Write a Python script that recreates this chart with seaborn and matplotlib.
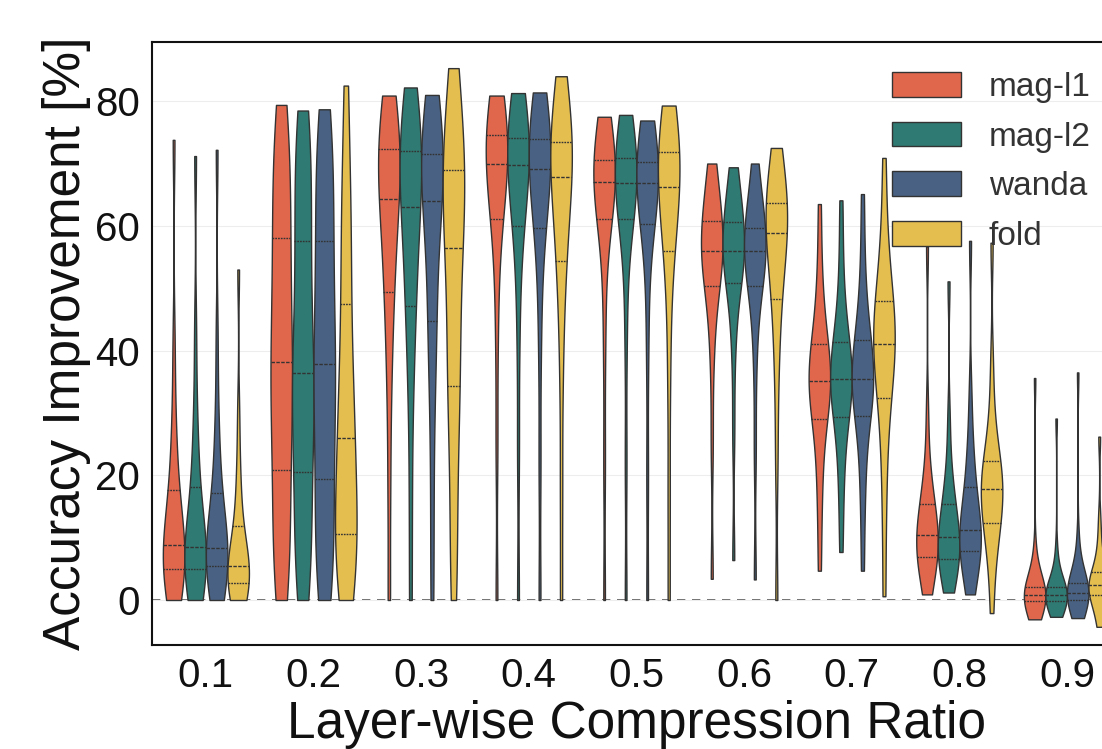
import matplotlib
matplotlib.use("Agg")
import matplotlib.pyplot as plt
import pandas as pd
import seaborn as sns

ratios = ["0.1", "0.2", "0.3", "0.4", "0.5", "0.6", "0.7", "0.8", "0.9"]
methods = ["mag-l1", "mag-l2", "wanda", "fold"]
colors = ["#E0664C", "#2F7A72", "#496283", "#E5BE50"]

# accuracy improvement samples [%], one list per compression ratio
mag_l1 = [
    [0, 1.2, 2.5, 3.4, 4.4, 5.2, 5.9, 6.8, 7.7, 8.4, 9.2, 10.5, 12, 14, 16.8, 20, 24, 30, 41, 73.8],
    [0, 4, 8, 12.5, 17, 22.2, 26, 30, 34, 36.5, 39.9, 44, 48, 52.5, 57, 61.5, 65.5, 70, 74.5, 79.4],
    [0, 18, 32, 40, 47, 50.1, 54, 58, 61, 63.5, 65.1, 67, 69, 70.5, 72, 73.6, 75, 77, 79, 80.9],
    [0, 25, 42, 52, 59.5, 61.6, 64, 66, 68, 69.3, 70.5, 71.8, 72.8, 73.6, 74.3, 75.5, 76.8, 78, 79.5, 80.9],
    [0, 22, 40, 51, 59.5, 61.6, 63.5, 65, 66, 66.7, 67.5, 68.3, 69, 69.6, 70.3, 71.5, 72.8, 74.2, 75.8, 77.5],
    [3.4, 25, 38, 44, 48.5, 50.9, 52.5, 54, 55, 55.5, 56.3, 57.2, 58.2, 59.2, 60.3, 62.3, 64, 66, 68, 70],
    [4.7, 13, 19, 23.5, 27.5, 29.5, 31.2, 32.6, 33.8, 34.7, 35.7, 36.8, 38, 39.3, 40.6, 42.6, 45.5, 49, 55, 63.5],
    [0.9, 2.8, 4.2, 5.4, 6.6, 7.1, 7.9, 8.7, 9.4, 10.1, 10.9, 11.8, 12.8, 13.9, 15, 16.6, 18.8, 22, 30, 56.7],
    [-3.1, -2.2, -1.5, -1.0, -0.4, -0.1, 0.2, 0.4, 0.6, 0.7, 0.9, 1.1, 1.3, 1.6, 1.9, 2.4, 3.2, 4.5, 8, 35.6],
]
mag_l2 = [
    [0, 1.0, 2.2, 3.3, 4.5, 5.2, 6.0, 6.8, 7.5, 8.1, 8.9, 10.2, 11.8, 14, 17.2, 20.8, 25, 31, 43, 71.2],
    [0, 4, 8, 12, 16.5, 21.8, 25.5, 29, 32.5, 35, 37.8, 42, 46.5, 51, 56.5, 61, 65.5, 70, 74.5, 78.5],
    [0, 16, 30, 38, 45, 47.8, 52, 56, 59.5, 62, 64.2, 66.5, 68.5, 70, 71.5, 73.5, 75.5, 77.5, 80, 82.2],
    [0, 24, 41, 51, 58.3, 60.6, 63, 65.5, 67.5, 69, 70.4, 71.5, 72.5, 73.2, 73.8, 74.8, 76.5, 78, 79.8, 81.3],
    [0, 22, 41, 52, 59.6, 61.6, 63.3, 64.8, 65.8, 66.5, 67.3, 68.2, 69, 69.8, 70.6, 72, 73.3, 74.7, 76.2, 77.8],
    [6.4, 27, 39, 45, 49.3, 51.4, 52.8, 54, 55, 55.5, 56.3, 57.2, 58.2, 59.2, 60.1, 62.1, 63.8, 65.6, 67.5, 69.4],
    [7.7, 15, 20.5, 24.5, 28, 29.9, 31.5, 32.9, 34, 34.9, 35.9, 37, 38.3, 39.6, 40.9, 42.9, 45.8, 49.5, 56, 64.1],
    [1.2, 2.7, 3.9, 5.0, 6.2, 6.6, 7.4, 8.2, 9.0, 9.7, 10.5, 11.4, 12.5, 13.7, 15, 16.6, 18.8, 22, 29, 51.1],
    [-2.7, -1.9, -1.3, -0.8, -0.4, -0.1, 0.2, 0.4, 0.6, 0.7, 0.9, 1.1, 1.3, 1.6, 2.0, 2.5, 3.3, 4.6, 8, 29.1],
]
wanda = [
    [0, 1.4, 2.8, 3.9, 5.0, 5.7, 6.3, 7.0, 7.6, 8.0, 8.8, 10, 11.5, 13.6, 16.4, 19.6, 24, 30, 42, 72.2],
    [0, 3.5, 7.5, 11.5, 15.5, 20.7, 25, 29, 33, 36.5, 39.1, 43, 47.5, 52, 56.5, 61, 65.5, 70, 74.5, 78.7],
    [0, 14, 27, 36, 42, 45.7, 51, 56, 60, 63, 65, 67, 68.5, 70, 71, 73, 75, 77, 79, 81],
    [0, 22, 40, 50, 58, 60.3, 62.8, 65, 67, 68.6, 69.8, 71, 72, 73, 73.6, 74.8, 76.5, 78, 79.8, 81.4],
    [0, 20, 39, 50, 58.5, 60.9, 62.8, 64.5, 65.6, 66.4, 67.2, 68, 68.8, 69.5, 70, 71.2, 72.6, 74, 75.5, 76.9],
    [3.3, 24, 37, 44, 48.6, 50.9, 52.5, 54, 55, 55.5, 56.3, 57, 57.8, 58.6, 59.4, 60.6, 62.5, 65, 67.5, 70],
    [4.7, 13.5, 19.5, 24, 28, 30, 31.6, 33, 34.1, 34.9, 35.9, 37.1, 38.5, 39.9, 41.2, 43.2, 46.3, 50, 56.5, 65.1],
    [0.9, 3, 4.6, 6, 7.5, 7.9, 8.7, 9.5, 10.3, 10.9, 11.7, 12.7, 14, 15.5, 17.5, 19.9, 22.5, 26, 33, 57.6],
    [-2.9, -1.9, -1.2, -0.6, -0.2, 0.1, 0.5, 0.8, 1.0, 1.1, 1.3, 1.6, 1.9, 2.3, 2.6, 3.3, 4.3, 5.8, 10, 36.5],
]
fold = [
    [0, 0.5, 1.2, 1.9, 2.5, 2.9, 3.4, 4.0, 4.6, 5.1, 5.7, 6.6, 7.7, 9.0, 11.2, 14.0, 17.5, 22, 30, 53],
    [0, 2.5, 5, 7.5, 9.5, 11.0, 14, 17.5, 21, 24.5, 27.5, 31, 35, 40, 46, 52, 58, 64, 71, 82.5],
    [0, 8, 17, 25, 32, 35.1, 40, 45, 50, 54.5, 58.3, 61.5, 64, 66.5, 68.5, 70.5, 73.5, 77, 81, 85.3],
    [0, 18, 35, 45, 52, 55.1, 58.5, 62, 64.5, 66.8, 68.8, 70.3, 71.5, 72.5, 73, 74.6, 76.5, 78.5, 81, 84],
    [0, 17, 34, 45, 53.5, 56.7, 59.5, 62, 64, 65.4, 67, 68.3, 69.5, 70.6, 71.5, 73.1, 74.6, 76.2, 77.8, 79.3],
    [0, 22, 34, 41, 46.5, 48.9, 52, 55, 57, 58.2, 59.4, 60.4, 61.4, 62.3, 63.2, 64.8, 66.5, 68.5, 70.5, 72.5],
    [0.6, 12, 20, 26, 30.6, 33, 35.5, 37.5, 39.3, 40.5, 41.7, 43, 44.5, 46, 47.4, 49.8, 52.5, 56, 62, 70.9],
    [-2.1, 4, 7.5, 10, 11.8, 12.5, 14, 15.3, 16.4, 17.3, 18.3, 19.2, 20.1, 21, 21.8, 23.8, 26.5, 30.5, 38, 57.3],
    [-4.3, -2.5, -1.2, -0.2, 0.5, 0.9, 1.4, 1.8, 2.1, 2.3, 2.5, 2.8, 3.2, 3.6, 4.2, 5.4, 7, 9.2, 13, 26.2],
]

rows = []
for name, per_ratio in zip(methods, [mag_l1, mag_l2, wanda, fold]):
    for r, vals in zip(ratios, per_ratio):
        for v in vals:
            rows.append((r, name, v))
df = pd.DataFrame(rows, columns=["ratio", "method", "acc"])

sns.set_style("whitegrid", {"grid.color": "#EDEDED", "axes.edgecolor": "#111111"})
plt.rcParams["font.family"] = ["Liberation Sans", "DejaVu Sans"]

fig = plt.figure(figsize=(11.02, 7.49), dpi=100)
# axes runs a bit past the right edge, as in the cropped original
ax = fig.add_axes([0.138, 0.139, 0.879, 0.805])

ax.axhline(0, color="#555555", lw=1.2, ls=(0, (5, 4)), zorder=0.5)
sns.violinplot(data=df, x="ratio", y="acc", hue="method", order=ratios,
               hue_order=methods, palette=colors, saturation=1, cut=0,
               bw_adjust=0.7, inner="quart", density_norm="width", width=0.8,
               linewidth=1, linecolor="#333333", ax=ax)

ax.set_ylim(-7.2, 89.5)
ax.set_yticks([0, 20, 40, 60, 80])
ax.set_xlabel("Layer-wise Compression Ratio", fontsize=37, color="#111111")
ax.set_ylabel("Accuracy Improvement [%]", fontsize=37, color="#111111", labelpad=3)
ax.tick_params(axis="both", labelsize=29, colors="#111111", pad=5)
for s in ax.spines.values():
    s.set_linewidth(1.5)

ax.legend(loc="upper right", frameon=False, fontsize=24, handlelength=2.05,
          handleheight=0.75, handletextpad=0.85, labelspacing=0.56,
          labelcolor="#333333")

fig.savefig("out.png", dpi=100)
